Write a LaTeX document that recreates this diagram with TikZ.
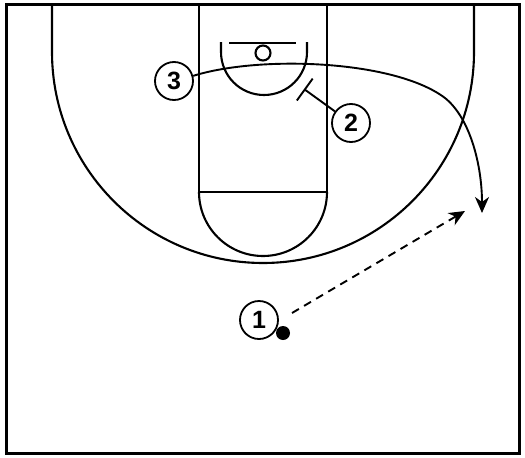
\documentclass[tikz,border=0pt]{standalone}
\usepackage{fontspec}
\setmainfont{Liberation Sans}
\usetikzlibrary{arrows.meta}
\begin{document}
\begin{tikzpicture}[x=1pt,y=-1pt,
  court/.style={line width=2.1pt, black},
  player/.style={circle, draw, line width=1.8pt, minimum size=38pt, inner sep=0pt, fill=white, font=\fontsize{25}{25}\selectfont\bfseries},
  ballnode/.style={circle, fill=black, minimum size=14pt, inner sep=0pt},
  cut/.style={line width=1.9pt, -{Stealth[length=16pt,width=14pt,inset=5pt]}},
  pass/.style={line width=1.9pt, dash pattern=on 8pt off 6pt, -{Stealth[length=16pt,width=14pt,inset=5pt]}},
  screen/.style={line width=1.9pt, -{Bar[width=27pt,line width=1.9pt]}}]
\useasboundingbox (0,0) rectangle (525,458);
% court
\draw[line width=3pt] (6,4) rectangle (519,453);
\draw[court] (52,4) -- (52,52) arc[start angle=180, end angle=0, radius=211] -- (474,4);
\draw[court] (199,4) rectangle (327,192);
\draw[court] (199,192) arc[start angle=180, end angle=0, radius=64];
\draw[court] (221,42) -- (221,52) arc[start angle=180, end angle=0, radius=43] -- (307,42);
\draw[court] (229,43) -- (296,43);
\draw[court] (263,53) circle[radius=7.5];
% players
\node[player] (p3) at (174,81) {3};
\node[player] (p2) at (351,123) {2};
\node[player] (p1) at (259,320) {1};
\node[ballnode] (ball) at (283,333) {};
\coordinate (scr) at (304,89);
\coordinate (cutend) at (482,213);
\coordinate (passstart) at (292,313);
\coordinate (passend) at (465,211);
% actions
\draw[cut] (p3.15) .. controls (260,55) and (395,60) .. (445,98) .. controls (470,118) and (482,165) .. (cutend);
\draw[screen] (p2) -- (scr);
\draw[pass] (passstart) -- (passend);
\end{tikzpicture}
\end{document}
